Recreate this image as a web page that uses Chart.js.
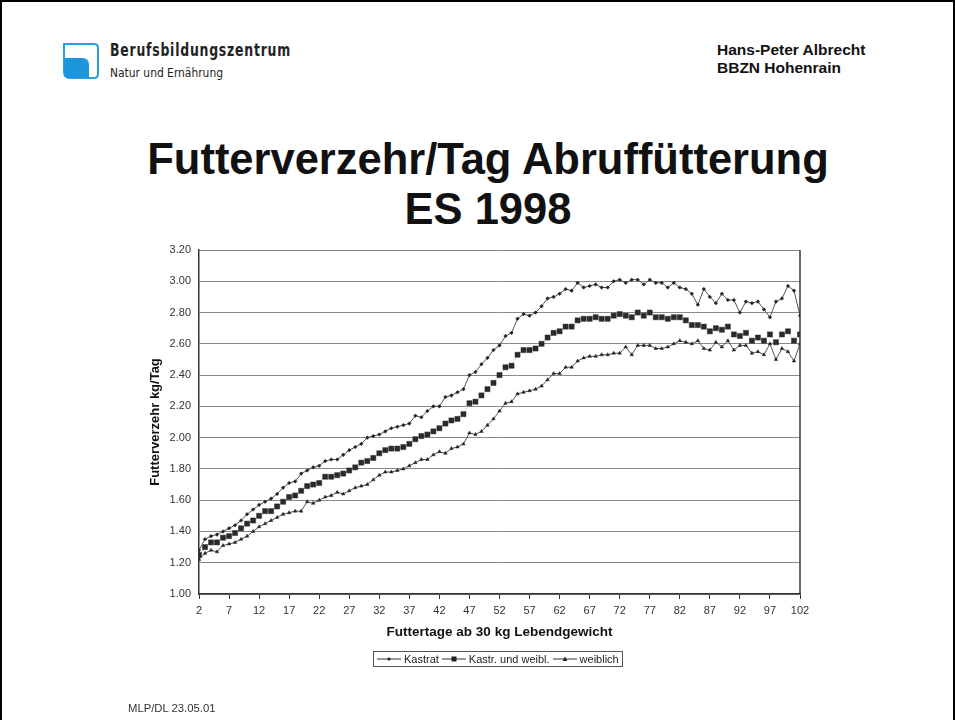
<!DOCTYPE html>
<html><head><meta charset="utf-8">
<script src="https://cdn.jsdelivr.net/npm/chart.js@4.4.1/dist/chart.umd.min.js"></script>
<style>
html,body{margin:0;padding:0;background:#fff;}
body{width:955px;height:720px;overflow:hidden;position:relative;font-family:"Liberation Sans",Arial,sans-serif;}
#frame{position:absolute;left:0;top:0;width:951px;height:740px;border:2px solid #000;border-bottom:none;}
#cv{position:absolute;left:0;top:0;}
#logo{position:absolute;left:62px;top:42px;}
#bz{position:absolute;left:110px;top:40px;font-family:"DejaVu Sans Condensed","Liberation Sans Narrow","DejaVu Sans",sans-serif;font-weight:bold;font-size:18px;letter-spacing:1px;color:#222;white-space:nowrap;transform-origin:0 0;line-height:20px;}
#ne{position:absolute;left:110px;top:65px;font-family:"DejaVu Sans Condensed","Liberation Sans Narrow","DejaVu Sans",sans-serif;font-size:12px;color:#222;white-space:nowrap;transform-origin:0 0;line-height:16px;}
#author{position:absolute;left:717px;top:41px;font-weight:bold;font-size:15.5px;line-height:18px;color:#111;}
.title{position:absolute;left:0;width:976px;text-align:center;font-weight:bold;font-size:43.5px;line-height:43px;color:#111;}
#legend{position:absolute;left:373px;top:651px;width:248px;height:14px;border:1px solid #555;display:flex;align-items:center;font-size:11px;color:#222;white-space:nowrap;}
#legend .it{display:flex;align-items:center;margin-left:2px;}
#legend svg{margin-right:2px;}
#foot{position:absolute;left:128px;top:702px;font-size:11.3px;color:#333;}
</style></head>
<body>
<div id="frame"></div>
<svg id="logo" width="38" height="38" viewBox="0 0 38 38">
  <path d="M2 2 H32 Q36 2 36 6 V32 Q36 36 32 36 H8 Q2 36 2 30 Z" fill="none" stroke="#2a9fe0" stroke-width="2"/>
  <path d="M2 16 H20 Q27 16 27 23 V36 H8 Q2 36 2 30 Z" fill="#1b95dc"/>
</svg>
<div id="bz">Berufsbildungszentrum</div>
<div id="ne">Natur und Ernährung</div>
<div id="author">Hans-Peter Albrecht<br>BBZN Hohenrain</div>
<div class="title" style="top:138px">Futterverzehr/Tag Abruffütterung</div>
<div class="title" style="top:188px">ES 1998</div>
<canvas id="cv" width="955" height="720"></canvas>
<div id="legend"></div>
<div id="foot">MLP/DL 23.05.01</div>
<script>
const days = [2,3,4,5,6,7,8,9,10,11,12,13,14,15,16,17,18,19,20,21,22,23,24,25,26,27,28,29,30,31,32,33,34,35,36,37,38,39,40,41,42,43,44,45,46,47,48,49,50,51,52,53,54,55,56,57,58,59,60,61,62,63,64,65,66,67,68,69,70,71,72,73,74,75,76,77,78,79,80,81,82,83,84,85,86,87,88,89,90,91,92,93,94,95,96,97,98,99,100,101,102];
const xTickLabels = [2,7,12,17,22,27,32,37,42,47,52,57,62,67,72,77,82,87,92,97,102];
const yTickLabels = [1.00,1.20,1.40,1.60,1.80,2.00,2.20,2.40,2.60,2.80,3.00,3.20];
const seriesNames = ['Kastrat','Kastr. und weibl.','weiblich'];
const kastrat = [1.28,1.35,1.37,1.38,1.40,1.42,1.44,1.47,1.51,1.54,1.57,1.59,1.61,1.64,1.68,1.71,1.72,1.77,1.79,1.81,1.82,1.85,1.86,1.86,1.89,1.92,1.94,1.96,2.00,2.01,2.02,2.04,2.06,2.07,2.08,2.09,2.14,2.13,2.17,2.20,2.20,2.26,2.27,2.29,2.31,2.40,2.42,2.47,2.51,2.56,2.59,2.65,2.67,2.76,2.79,2.78,2.80,2.84,2.89,2.90,2.92,2.95,2.94,2.99,2.96,2.97,2.98,2.96,2.96,3.00,3.01,2.99,3.01,3.01,2.98,3.01,2.99,2.99,2.96,2.99,2.96,2.95,2.92,2.85,2.95,2.90,2.86,2.92,2.88,2.88,2.80,2.87,2.86,2.87,2.82,2.77,2.87,2.89,2.97,2.94,2.78];
const gemischt = [1.25,1.30,1.33,1.33,1.36,1.37,1.39,1.42,1.45,1.47,1.50,1.53,1.53,1.56,1.59,1.62,1.63,1.66,1.69,1.70,1.71,1.75,1.75,1.76,1.77,1.79,1.81,1.84,1.85,1.87,1.90,1.92,1.93,1.93,1.94,1.96,1.99,2.01,2.02,2.04,2.06,2.09,2.11,2.12,2.15,2.22,2.23,2.27,2.31,2.35,2.40,2.45,2.46,2.53,2.56,2.56,2.57,2.60,2.64,2.67,2.68,2.71,2.71,2.75,2.76,2.76,2.77,2.76,2.76,2.78,2.79,2.78,2.77,2.80,2.78,2.80,2.77,2.77,2.76,2.77,2.77,2.75,2.72,2.72,2.71,2.68,2.70,2.69,2.71,2.66,2.65,2.67,2.62,2.64,2.62,2.66,2.61,2.66,2.68,2.62,2.66];
const weiblich = [1.22,1.26,1.28,1.27,1.31,1.32,1.33,1.35,1.37,1.40,1.43,1.45,1.47,1.49,1.51,1.52,1.53,1.53,1.59,1.58,1.60,1.62,1.63,1.65,1.64,1.66,1.68,1.69,1.70,1.73,1.76,1.78,1.78,1.79,1.80,1.82,1.84,1.86,1.86,1.89,1.91,1.90,1.93,1.94,1.96,2.03,2.02,2.04,2.08,2.12,2.17,2.22,2.23,2.28,2.29,2.30,2.31,2.33,2.37,2.41,2.41,2.45,2.45,2.49,2.51,2.52,2.52,2.53,2.53,2.54,2.54,2.58,2.53,2.59,2.59,2.59,2.57,2.57,2.58,2.60,2.62,2.61,2.60,2.62,2.57,2.56,2.61,2.58,2.62,2.56,2.59,2.59,2.54,2.55,2.53,2.60,2.50,2.57,2.55,2.49,2.60];

const styles = [
  {pointStyle:'rectRot', pointRadius:1.8, borderWidth:1, borderColor:'#555', pointBackgroundColor:'#222', pointBorderColor:'#222', pointBorderWidth:0.5},
  {pointStyle:'rect', pointRadius:3.6, borderWidth:0.5, borderColor:'#bbb', pointBackgroundColor:'#2a2a2a', pointBorderColor:'#2a2a2a', pointBorderWidth:0.5},
  {pointStyle:'triangle', pointRadius:2.0, borderWidth:1, borderColor:'#555', pointBackgroundColor:'#222', pointBorderColor:'#222', pointBorderWidth:0.5}
];
const values = [kastrat, gemischt, weiblich];
const datasets = values.map((arr, k) => Object.assign({
  label: seriesNames[k],
  data: days.map((d, i) => ({x: d, y: arr[i]})),
  fill: false, tension: 0
}, styles[k]));

const frameRight = {
  id: 'frameRight',
  afterDatasetsDraw(chart) {
    const a = chart.chartArea, c = chart.ctx;
    c.save(); c.strokeStyle = '#333'; c.lineWidth = 1.5;
    c.beginPath(); c.moveTo(a.right, a.top); c.lineTo(a.right, a.bottom); c.stroke();
    c.restore();
  }
};

new Chart(document.getElementById('cv'), {
  type: 'line',
  data: {datasets},
  plugins: [frameRight],
  options: {
    responsive: false, animation: false,
    layout: {padding: {left: 140, right: 155, top: 250, bottom: 76}},
    plugins: {legend: {display: false}, tooltip: {enabled: false}},
    scales: {
      x: {
        type: 'linear', min: 2, max: 102,
        afterBuildTicks: s => { s.ticks = xTickLabels.map(v => ({value: v})); },
        afterFit: s => { s.height = 50; },
        ticks: {autoSkip: false, maxRotation: 0, color: '#333', font: {size: 11, family: 'Liberation Sans'}, padding: 5, callback: v => String(v)},
        grid: {drawOnChartArea: false, tickLength: 5, color: '#333', lineWidth: 1},
        border: {color: '#333', width: 1.5},
        title: {display: true, text: 'Futtertage ab 30 kg Lebendgewicht', color: '#111', font: {size: 13.5, weight: 'bold', family: 'Liberation Sans'}, padding: {top: 0, bottom: 4}}
      },
      y: {
        min: 1, max: 3.2,
        afterBuildTicks: s => { s.ticks = yTickLabels.map(v => ({value: v})); },
        afterFit: s => { s.width = 59; },
        ticks: {color: '#333', font: {size: 11, family: 'Liberation Sans'}, padding: 8, callback: v => Number(v).toFixed(2)},
        grid: {color: '#8a8a8a', lineWidth: 1, drawTicks: false},
        border: {color: '#333', width: 1.5},
        title: {display: true, text: 'Futterverzehr kg/Tag', color: '#111', font: {size: 13, weight: 'bold', family: 'Liberation Sans'}, padding: {top: 8, bottom: 0}}
      }
    }
  }
});

// HTML legend built from the series names
const marks = [
  '<circle cx="13" cy="4" r="1.6" fill="#222"/>',
  '<rect x="10.5" y="1.5" width="5" height="5" fill="#222"/>',
  '<path d="M13 1.5 L15.3 6 L10.7 6 Z" fill="#222"/>'
];
const lg = document.getElementById('legend');
seriesNames.forEach((n, k) => {
  const it = document.createElement('span'); it.className = 'it';
  it.innerHTML = '<svg width="26" height="8"><line x1="1" y1="4" x2="25" y2="4" stroke="#333" stroke-width="1"/>' + marks[k] + '</svg>' + n;
  lg.appendChild(it);
});

// fit the header wordmark to its width in the reference
function fitW(id, w) { const e = document.getElementById(id); const r = e.getBoundingClientRect().width; e.style.transform = 'scaleX(' + (w / r) + ')'; }
fitW('bz', 181); fitW('ne', 113);
</script>
</body></html>
